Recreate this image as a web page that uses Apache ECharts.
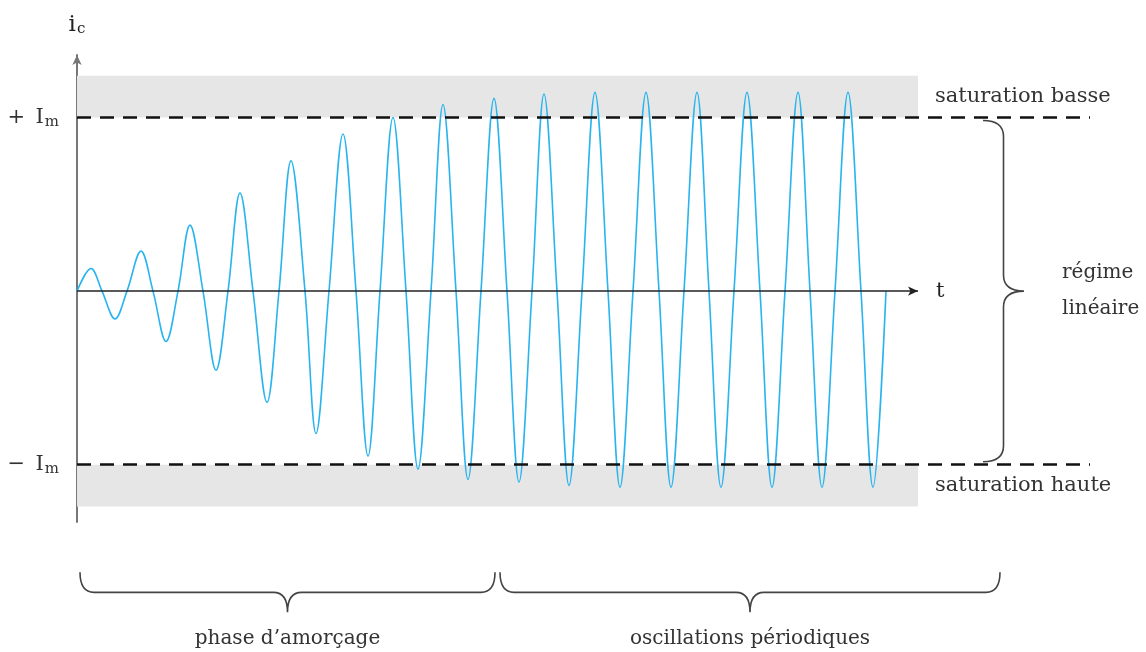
<!DOCTYPE html>
<html>
<head>
<meta charset="utf-8">
<script src="https://cdn.jsdelivr.net/npm/echarts@6/dist/echarts.min.js"></script>
<style>
  html, body { margin: 0; background: #fff; }
  #chart { width: 1146px; height: 652px; }
</style>
</head>
<body>
<div id="chart"></div>
<script>
// time (arbitrary units) and collector current i_c (in units of I_m)
const tValues = [
  0, 14, 25, 38, 50, 64, 76, 89, 101, 113, 126, 139, 151, 163, 176, 190, 202, 214, 228, 239,
  252, 266, 279, 291, 303, 316, 329, 341, 354, 366, 379, 391, 404, 417, 430, 442, 455, 467, 480, 492,
  505, 518, 531, 543, 556, 569, 582, 594, 607, 620, 632, 644, 657, 670, 683, 695, 708, 721, 733, 745,
  758, 771, 784, 796, 809
];
const icValues = [
  0, 0.13, 0, -0.16, 0, 0.23, 0, -0.29, 0, 0.38, 0, -0.455, 0, 0.565, 0, -0.64, 0, 0.75, 0, -0.82,
  0, 0.905, 0, -0.95, 0, 1.0, 0, -1.025, 0, 1.075, 0, -1.085, 0, 1.11, 0, -1.1, 0, 1.135, 0, -1.12,
  0, 1.145, 0, -1.13, 0, 1.145, 0, -1.13, 0, 1.145, 0, -1.13, 0, 1.145, 0, -1.13, 0, 1.145, 0, -1.13,
  0, 1.145, 0, -1.13, 0
];
const limitLevels = [1, -1];              // +I_m / -I_m
const limitLabels = ["+\u2002I", "\u2212\u2002I"];
const saturationBands = [
  { from: 1, to: 1.24, label: "saturation basse" },
  { from: -1.24, to: -1, label: "saturation haute" }
];
const tAxisEnd = 841;
// [t start, t end, caption]
const phaseBraces = [
  [3, 418, "phase d\u2019amor\u00e7age"],
  [423, 923, "oscillations p\u00e9riodiques"]
];
const braceLevel = -1.62;
const regimeBrace = [[906, 1, -1, "r\u00e9gime\nlin\u00e9aire"]];

const FONT = "DejaVu Serif";
const TEXT = "#333";

var chart = echarts.init(document.getElementById("chart"));
var curve = tValues.map((t, i) => [t, icValues[i]]);

function hBrace(x1, x2, y0, depth) {
  var y1 = y0 + depth * 0.5, y2 = y0 + depth, xm = (x1 + x2) / 2, r = 14;
  return "M" + x1 + "," + y0 + " Q" + x1 + "," + y1 + " " + (x1 + r) + "," + y1 +
    " L" + (xm - r) + "," + y1 + " Q" + xm + "," + y1 + " " + xm + "," + y2 +
    " Q" + xm + "," + y1 + " " + (xm + r) + "," + y1 +
    " L" + (x2 - r) + "," + y1 + " Q" + x2 + "," + y1 + " " + x2 + "," + y0;
}
function vBrace(x0, yt, yb, depth) {
  var x1 = x0 + depth * 0.5, x2 = x0 + depth, ym = (yt + yb) / 2, r = 16;
  return "M" + x0 + "," + yt + " Q" + x1 + "," + yt + " " + x1 + "," + (yt + r) +
    " L" + x1 + "," + (ym - r) + " Q" + x1 + "," + ym + " " + x2 + "," + ym +
    " Q" + x1 + "," + ym + " " + x1 + "," + (ym + r) +
    " L" + x1 + "," + (yb - r) + " Q" + x1 + "," + yb + " " + x0 + "," + yb;
}
var braceStyle = { stroke: "#444", lineWidth: 1.6, fill: "none" };

var option = {
  backgroundColor: "#fff",
  animation: false,
  textStyle: { fontFamily: FONT, color: TEXT },
  grid: { left: 77, right: 56, top: 55, bottom: 130 },
  xAxis: { type: "value", min: 0, max: 1013, show: false },
  yAxis: {
    type: "value",
    min: -1.33,
    max: 1.36,
    name: "{i|i}{s|c}",
    nameLocation: "end",
    nameGap: 18,
    nameTextStyle: {
      rich: {
        i: { fontFamily: FONT, fontSize: 23, color: "#222" },
        s: { fontFamily: FONT, fontSize: 15, color: "#222", padding: [9, 0, 0, 1] },
      },
    },
    axisLine: {
      show: true,
      symbol: ["none", "arrow"],
      symbolSize: [7, 10],
      lineStyle: { color: "#777", width: 2 },
    },
    axisTick: { show: false },
    axisLabel: { show: false },
    splitLine: { show: false },
  },
  series: [
    {
      // saturation bands
      type: "line",
      data: [],
      z: 1,
      markArea: {
        silent: true,
        itemStyle: { color: "#e6e6e6" },
        label: {
          position: "right",
          distance: 17,
          fontFamily: FONT,
          fontSize: 21,
          color: TEXT,
        },
        data: saturationBands.map((b) => [
          { xAxis: 0, yAxis: b.from, name: b.label },
          { xAxis: tAxisEnd, yAxis: b.to },
        ]),
      },
    },
    {
      // t axis with arrow
      type: "line",
      data: [],
      z: 2,
      markLine: {
        silent: true,
        symbol: ["none", "arrow"],
        symbolSize: [7, 10],
        lineStyle: { color: "#222", width: 1.5, type: "solid" },
        label: {
          position: "end",
          distance: 18,
          formatter: "t",
          fontFamily: FONT,
          fontSize: 21,
          color: "#222",
        },
        data: [[{ coord: [0, 0] }, { coord: [tAxisEnd, 0] }]],
      },
    },
    {
      type: "line",
      name: "ic",
      data: curve,
      smooth: 0.36,
      showSymbol: false,
      z: 3,
      lineStyle: { color: "#29b4ef", width: 1.6 },
    },
    {
      // +I_m / -I_m dashed limits
      type: "line",
      data: [],
      z: 4,
      markLine: {
        silent: true,
        symbol: "none",
        lineStyle: { color: "#111", width: 2.6, type: [14, 9] },
        label: {
          position: "start",
          distance: 18,
          fontFamily: FONT,
          color: TEXT,
          rich: {
            a: { fontFamily: FONT, fontSize: 21, color: TEXT },
            s: { fontFamily: FONT, fontSize: 15, color: TEXT, padding: [9, 0, 0, 1] },
          },
        },
        data: limitLevels.map((v, i) => ({
          yAxis: v,
          label: { formatter: "{a|" + limitLabels[i] + "}{s|m}" },
        })),
      },
    },
    {
      // phase braces under the time axis
      type: "custom",
      clip: false,
      silent: true,
      z: 5,
      data: phaseBraces,
      renderItem: function (params, api) {
        var p1 = api.coord([api.value(0), braceLevel]);
        var p2 = api.coord([api.value(1), braceLevel]);
        return {
          type: "group",
          children: [
            { type: "path", shape: { pathData: hBrace(p1[0], p2[0], p1[1], 40) }, style: braceStyle },
            {
              type: "text",
              x: (p1[0] + p2[0]) / 2,
              y: p1[1] + 66,
              style: {
                text: phaseBraces[params.dataIndex][2],
                font: "20px '" + FONT + "'",
                fill: TEXT,
                align: "center",
                verticalAlign: "middle",
              },
            },
          ],
        };
      },
    },
    {
      // linear regime brace
      type: "custom",
      clip: false,
      silent: true,
      z: 5,
      data: regimeBrace,
      renderItem: function (params, api) {
        var t = api.coord([api.value(0), api.value(1)]);
        var b = api.coord([api.value(0), api.value(2)]);
        var mid = api.coord([985, 0]);
        return {
          type: "group",
          children: [
            { type: "path", shape: { pathData: vBrace(t[0], t[1] + 3, b[1] - 3, 41) }, style: braceStyle },
            {
              type: "text",
              x: mid[0],
              y: mid[1],
              style: {
                text: regimeBrace[params.dataIndex][3],
                font: "20px '" + FONT + "'",
                lineHeight: 36,
                fill: TEXT,
                align: "left",
                verticalAlign: "middle",
              },
            },
          ],
        };
      },
    },
  ],
};
option && chart.setOption(option);
</script>
</body>
</html>
